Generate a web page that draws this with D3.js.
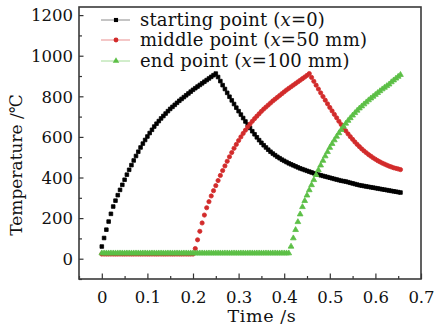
<!DOCTYPE html>
<html>
<head>
<meta charset="utf-8">
<script src="https://cdn.jsdelivr.net/npm/d3@7"></script>
<style>
  body { margin: 0; background: #fff; }
  svg text { font-family: "DejaVu Serif", serif; fill: #111; }
</style>
</head>
<body>
<svg id="chart" width="436" height="328"></svg>
<script>
// sampling interval of the recorded curves (s)
const DT = 0.005;

// starting point (x=0): heats 0-0.25 s then cools
const startTemps = [
  60, 102, 143, 183, 221, 257, 286, 313, 339, 364, 389, 414, 438, 461, 484, 506, 527, 548, 567, 585,
  602, 619, 635, 651, 665, 678, 691, 703, 715, 727, 738, 748, 758, 768, 778, 787, 796, 805, 814, 823,
  832, 840, 848, 856, 864, 872, 880, 888, 896, 904, 912,
  895, 875, 855, 836, 817, 798, 780, 762, 744, 727, 710, 693, 676, 660, 644, 628, 613, 598, 584, 571,
  559, 548, 537, 527, 518, 510, 502, 495, 488, 482, 476, 470, 465, 460, 455, 450, 445, 441, 437, 433,
  429, 425, 421, 417, 414, 411, 408, 405, 402, 399, 396, 393, 390, 387, 384, 382, 380, 377, 374, 371,
  368, 365, 362, 360, 358, 356, 354, 352, 350, 348, 346, 344, 342, 340, 338, 336, 334, 332, 330, 328,
  326
];

// middle point (x=50 mm)
const middleTemps = [
  23, 23, 23, 23, 23, 23, 23, 23, 23, 23, 23, 23, 23, 23, 23, 23, 23, 23, 23, 23,
  23, 23, 23, 23, 23, 23, 23, 23, 23, 23, 23, 23, 23, 23, 23, 23, 23, 23, 23, 23, 23,
  50, 93, 135, 176, 215, 251, 281, 309, 335, 360, 385, 410, 434, 457, 480, 502, 523, 544, 563, 582,
  600, 617, 633, 649, 663, 677, 690, 702, 714, 726, 737, 747, 757, 767, 777, 786, 795, 804, 813, 822,
  831, 839, 847, 855, 863, 871, 879, 887, 895, 903, 912,
  893, 874, 855, 836, 817, 799, 781, 763, 745, 728, 711, 694, 677, 661, 645, 630, 615, 601, 588, 575,
  563, 552, 541, 531, 522, 513, 505, 497, 490, 483, 477, 471, 466, 461, 456, 452, 448, 445, 442, 439
];

// end point (x=100 mm)
const endTemps = [
  27, 27, 27, 27, 27, 27, 27, 27, 27, 27, 27, 27, 27, 27, 27, 27, 27, 27, 27, 27,
  27, 27, 27, 27, 27, 27, 27, 27, 27, 27, 27, 27, 27, 27, 27, 27, 27, 27, 27, 27,
  27, 27, 27, 27, 27, 27, 27, 27, 27, 27, 27, 27, 27, 27, 27, 27, 27, 27, 27, 27,
  27, 27, 27, 27, 27, 27, 27, 27, 27, 27, 27, 27, 27, 27, 27, 27, 27, 27, 27, 27, 27, 27, 27,
  60, 101, 142, 181, 219, 255, 285, 312, 338, 363, 388, 413, 437, 460, 483, 505, 526, 547, 566, 584,
  602, 619, 635, 651, 666, 680, 693, 706, 718, 730, 741, 751, 761, 771, 781, 790, 799, 808, 817, 826,
  835, 843, 851, 859, 870, 879, 888, 897, 906
];

const seriesNames = ['starting point', 'middle point', 'end point'];
const seriesPos = ['0', '50 mm', '100 mm'];
const xTicks = [0, 0.1, 0.2, 0.3, 0.4, 0.5, 0.6, 0.7];
const yTicks = [0, 200, 400, 600, 800, 1000, 1200];

const series = [
  { name: seriesNames[0], pos: seriesPos[0], temps: startTemps, color: '#000', legendLine: '#8a8a8a', shape: d3.symbolSquare, size: 13 },
  { name: seriesNames[1], pos: seriesPos[1], temps: middleTemps, color: '#d22b2b', legendLine: '#e98f8f', shape: d3.symbolCircle, size: 14 },
  { name: seriesNames[2], pos: seriesPos[2], temps: endTemps, color: '#5cbf46', legendLine: '#a4dc98', shape: d3.symbolTriangle, size: 14 }
];

const svg = d3.select('#chart');
const plotLeft = 79, plotRight = 421, plotTop = 7, plotBottom = 279;

const x = d3.scaleLinear().domain([-0.05, 0.7]).range([plotLeft, plotRight]);
const y = d3.scaleLinear().domain([-100, 1240]).range([plotBottom, plotTop]);

// axes with inward ticks
const xMinor = [-0.05, 0.05, 0.15, 0.25, 0.35, 0.45, 0.55, 0.65];
const yMinor = [-100, 100, 300, 500, 700, 900, 1100];

svg.append('g')
  .attr('transform', `translate(0,${plotBottom})`)
  .call(d3.axisBottom(x).tickValues(xMinor).tickSize(-3).tickFormat(''))
  .call(g => g.select('.domain').remove());
svg.append('g')
  .attr('class', 'x-axis')
  .attr('transform', `translate(0,${plotBottom})`)
  .call(d3.axisBottom(x).tickValues(xTicks).tickSize(-5.5).tickPadding(12).tickFormat(d => d === 0 ? '0' : d3.format('.1f')(d)))
  .call(g => g.select('.domain').remove());

svg.append('g')
  .attr('transform', `translate(${plotLeft},0)`)
  .call(d3.axisLeft(y).tickValues(yMinor).tickSize(-3).tickFormat(''))
  .call(g => g.select('.domain').remove());
svg.append('g')
  .attr('class', 'y-axis')
  .attr('transform', `translate(${plotLeft},0)`)
  .call(d3.axisLeft(y).tickValues(yTicks).tickSize(-4.5).tickPadding(6).tickFormat(d3.format('d')))
  .call(g => g.select('.domain').remove());

svg.selectAll('.tick line').attr('stroke', '#333').attr('stroke-width', 1.2);
svg.selectAll('.x-axis text, .y-axis text').attr('font-size', 16.5).attr('font-family', '"DejaVu Serif", serif').attr('fill', '#111');
svg.selectAll('.y-axis text').attr('dy', '0.35em');

// frame
svg.append('rect')
  .attr('x', plotLeft).attr('y', plotTop)
  .attr('width', plotRight - plotLeft).attr('height', plotBottom - plotTop)
  .attr('fill', 'none').attr('stroke', '#3a3a3a').attr('stroke-width', 1.6);

// curves: markers only, dense enough to read as a thick line
const plot = svg.append('g');
series.forEach(s => {
  const pts = s.temps.map((v, i) => [i * DT, v]);
  plot.selectAll(null)
    .data(pts)
    .enter()
    .append('path')
      .attr('d', d3.symbol().type(s.shape).size(s.size))
      .attr('transform', d => `translate(${x(d[0])},${y(d[1])})`)
      .attr('fill', s.color)
      .attr('stroke', s.color)
      .attr('stroke-width', 0.8);
});

// legend
const legend = svg.append('g');
const rowY = [20, 40, 61];
series.forEach((s, i) => {
  let g = legend.append('g').attr('transform', `translate(0,${rowY[i]})`);
  g.append('line').attr('x1', 101).attr('x2', 130).attr('y1', 0).attr('y2', 0)
    .attr('stroke', s.legendLine).attr('stroke-width', 1);
  g.append('path').attr('d', d3.symbol().type(s.shape).size(s.size * 1.3))
    .attr('transform', 'translate(116,0)').attr('fill', s.color);
  let t = g.append('text').attr('x', 140).attr('y', 6).attr('font-size', 18).attr('letter-spacing', 0.2);
  t.append('tspan').text(`${s.name} (`);
  t.append('tspan').attr('font-style', 'italic').text('x');
  t.append('tspan').text(`=${s.pos})`);
});

// axis titles
svg.append('text')
  .attr('x', 262).attr('y', 322)
  .attr('text-anchor', 'middle')
  .attr('font-size', 17.5)
  .attr('letter-spacing', 0.6)
  .text('Time /s');

svg.append('text')
  .attr('transform', 'translate(22,165) rotate(-90)')
  .attr('text-anchor', 'middle')
  .attr('font-size', 17)
  .text('Temperature /\u2103');
</script>
</body>
</html>
